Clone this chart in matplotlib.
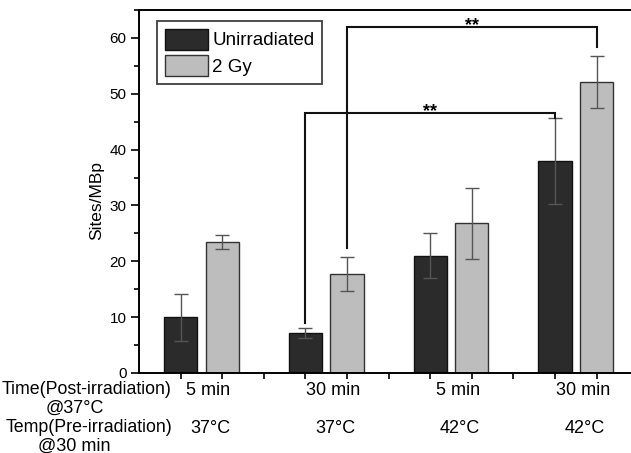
import matplotlib
matplotlib.use("Agg")
import matplotlib.pyplot as plt
import matplotlib.ticker as ticker

# ── data ────────────────────────────────────────────────────────────────
group_pos = [1.5, 4.5, 7.5, 10.5]
time_labels = ["5 min", "30 min", "5 min", "30 min"]
temp_labels = ["37°C", "37°C", "42°C", "42°C"]

unirr_means = [10.0, 7.2, 21.0, 37.9]
unirr_err = [4.2, 0.9, 4.0, 7.7]
gy2_means = [23.5, 17.7, 26.8, 52.1]
gy2_err = [1.3, 3.0, 6.3, 4.6]

# significance brackets: (x left, x right, y left start, y top, y right end, star x)
brackets = [
    (4, 10, 9.0, 46.6, 45.7, 7.0),
    (5, 11, 22.4, 62.0, 58.3, 8.0),
]

COLORS = {
    "dark": "#2b2b2b",
    "light": "#bdbdbd",
    "err": "#555555",
}

plt.rcParams.update({
    "font.family": ["Liberation Sans", "DejaVu Sans"],
    "font.size": 11,
    "axes.linewidth": 1.4,
    "figure.facecolor": "white",
    "axes.facecolor": "white",
})

W, H = 631, 453
fig = plt.figure(figsize=(W / 100, H / 100), dpi=100)
ax = fig.add_axes([139 / W, 1 - 373 / H, 1 - 139 / W, (373 - 10) / H])

dark_x = [p - 0.5 for p in group_pos]
light_x = [p + 0.5 for p in group_pos]

ax.bar(dark_x, unirr_means, width=0.8, color=COLORS["dark"], edgecolor="#111111",
       linewidth=1.0, label="Unirradiated", zorder=2)
ax.bar(light_x, gy2_means, width=0.8, color=COLORS["light"], edgecolor="#333333",
       linewidth=1.0, label="2 Gy", zorder=2)
ax.errorbar(dark_x, unirr_means, yerr=unirr_err, fmt="none", ecolor=COLORS["err"],
            elinewidth=1.0, capsize=5, capthick=1.0, zorder=3)
ax.errorbar(light_x, gy2_means, yerr=gy2_err, fmt="none", ecolor=COLORS["err"],
            elinewidth=1.0, capsize=5, capthick=1.0, zorder=3)

for xl, xr, yl, yt, yr, sx in brackets:
    ax.plot([xl, xl, xr, xr], [yl, yt, yt, yr], color="#111111", linewidth=1.5,
            solid_joinstyle="miter", zorder=4)
    ax.text(sx, yt - 0.6, "**", ha="center", va="baseline", fontsize=13,
            fontweight="bold")

ax.set_xlim(0, (W - 139) / 41.6)
ax.set_ylim(0, 65)

ax.spines["right"].set_visible(False)
ax.yaxis.set_major_locator(ticker.MultipleLocator(10))
ax.yaxis.set_minor_locator(ticker.MultipleLocator(5))
ax.xaxis.set_major_locator(ticker.FixedLocator(range(1, 12)))
ax.xaxis.set_major_formatter(ticker.NullFormatter())
ax.tick_params(axis="y", which="major", length=6, width=1.2, labelsize=11, pad=3)
ax.tick_params(axis="y", which="minor", length=3.5, width=1.2)
ax.tick_params(axis="x", which="major", length=4, width=1.2)
ax.set_ylabel("Sites/MBp", fontsize=12.5)
ax.yaxis.set_label_coords(-(139 - 104) / (W - 139), (373 - 201) / 363)

# category labels under each group
tr = ax.get_xaxis_transform()
for x, t, c in zip(group_pos, time_labels, temp_labels):
    ax.text(x + 0.17, -0.047, t, transform=tr, ha="center", va="center", fontsize=13)
    ax.text(x + 0.22, -0.152, c, transform=tr, ha="center", va="center", fontsize=13)

# row headers on the left
fig.text(2 / W, 1 - 390 / H, "Time(Post-irradiation)", ha="left", va="center", fontsize=12.8)
fig.text(46 / W, 1 - 408 / H, "@37°C", ha="left", va="center", fontsize=13)
fig.text(6 / W, 1 - 428 / H, "Temp(Pre-irradiation)", ha="left", va="center", fontsize=12.8)
fig.text(38 / W, 1 - 446 / H, "@30 min", ha="left", va="center", fontsize=13)

leg = ax.legend(loc="upper left", bbox_to_anchor=((157 - 139) / (W - 139), (373 - 21) / 363),
                fontsize=13.5, frameon=True, fancybox=False, edgecolor="#111111",
                handlelength=2.3, handleheight=1.35, handletextpad=0.25, borderpad=0.4,
                labelspacing=0.3, borderaxespad=0)
leg.get_frame().set_linewidth(1.3)

fig.savefig("out.png", dpi=100, facecolor="white")
plt.close(fig)
